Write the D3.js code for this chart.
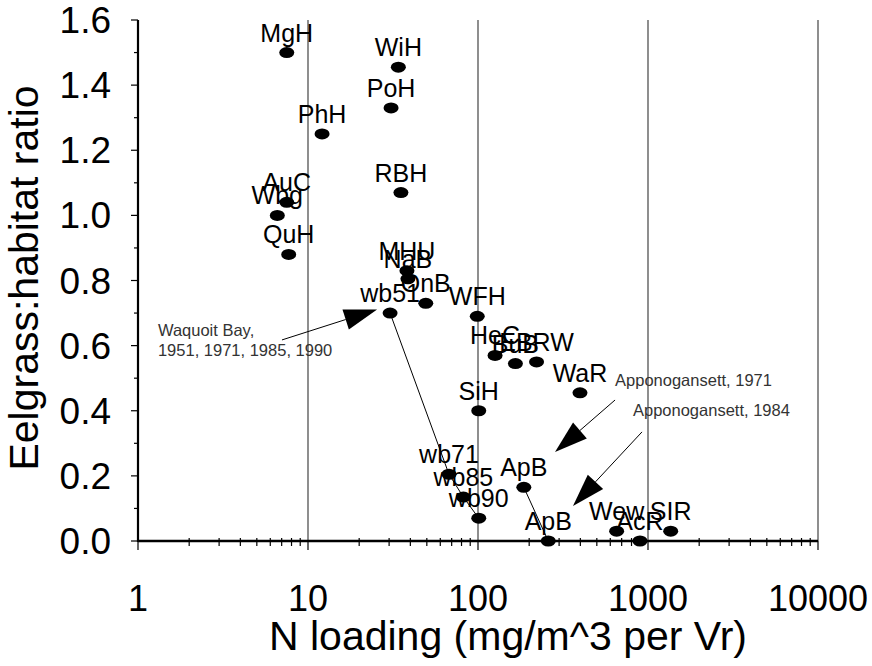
<!DOCTYPE html>
<html><head><meta charset="utf-8">
<script src="https://cdn.jsdelivr.net/npm/d3@7"></script>
<style>body{margin:0;background:#fff} svg{display:block}</style>
</head><body>
<svg id="chart" width="872" height="666"></svg>
<script>
// ---- data ----
const sites = ["MgH","WiH","PoH","PhH","RBH","AuC","Wbg","QuH","MHU","NaB","OnB","wb51","WFH","HeC","BuB","EBRW","WaR","SiH","wb71","wb85","wb90","ApB","ApB","Wew","AcR","SIR"];
const nLoading = [7.5, 34, 30.8, 12.1, 35.2, 7.5, 6.6, 7.7, 38.2, 38.7, 49.3, 30.4, 99, 126, 166, 221, 398, 101, 67.5, 82, 101, 186, 259, 654, 897, 1360];
const habitatRatio = [1.5, 1.455, 1.33, 1.25, 1.07, 1.04, 1.0, 0.88, 0.83, 0.805, 0.73, 0.70, 0.69, 0.57, 0.545, 0.55, 0.455, 0.40, 0.205, 0.135, 0.07, 0.165, 0.0, 0.03, 0.0, 0.03];
const waquoitTrack = [11, 18, 19, 20];
const apponTrack = [21, 22];
const xTicks = [1, 10, 100, 1000, 10000];
const yTicks = [0, 0.2, 0.4, 0.6, 0.8, 1.0, 1.2, 1.4, 1.6];
const annoText = [
  {lines: ["Waquoit Bay,", "1951, 1971, 1985, 1990"], x: 1.31, y: 0.63},
  {lines: ["Apponogansett, 1971"], x: 640, y: 0.476},
  {lines: ["Apponogansett, 1984"], x: 816, y: 0.384}
];
const annoArrows = [
  {from: [7.03, 0.6175], to: [25.5, 0.711]},
  {from: [640, 0.433], to: [283.8, 0.273]},
  {from: [922, 0.335], to: [362, 0.1075]}
];

// ---- layout ----
const svg = d3.select("#chart");
const x = d3.scaleLog().domain([1, 10000]).range([138, 818]);
const y = d3.scaleLinear().domain([0, 1.6]).range([541, 20]);
const FONT = "'Liberation Sans', Arial, sans-serif";

// vertical grid lines
svg.append("g").selectAll("line").data(xTicks.slice(1)).join("line")
  .attr("x1", d => x(d)).attr("x2", d => x(d))
  .attr("y1", y(1.6)).attr("y2", y(0))
  .attr("stroke", "#444").attr("stroke-width", 1.2);

// y axis
const yAxis = svg.append("g");
yAxis.append("line").attr("x1", x(1)).attr("x2", x(1)).attr("y1", y(1.6)).attr("y2", y(0) + 1)
  .attr("stroke", "#000").attr("stroke-width", 2.2);
const yMinor = d3.range(0, 17).map(i => i / 10);
yAxis.selectAll(".ymt").data(yMinor).join("line")
  .attr("x1", x(1)).attr("x2", (d, i) => x(1) - (i % 2 === 0 ? 7 : 4))
  .attr("y1", d => y(d)).attr("y2", d => y(d))
  .attr("stroke", "#000").attr("stroke-width", 1.2);
yAxis.selectAll("text").data(yTicks).join("text")
  .attr("x", 111).attr("y", d => y(d) + 13)
  .attr("text-anchor", "end").attr("font-family", FONT).attr("font-size", 37)
  .text(d => d3.format(".1f")(d));

// x axis
const xAxis = svg.append("g");
xAxis.append("line").attr("x1", x(1)).attr("x2", x(10000)).attr("y1", y(0)).attr("y2", y(0))
  .attr("stroke", "#000").attr("stroke-width", 2.6);
const xMinor = [];
[1, 10, 100, 1000].forEach(d => { for (let k = 2; k <= 9; k++) xMinor.push(d * k); });
xAxis.selectAll(".xmt").data(xMinor).join("line")
  .attr("x1", d => x(d)).attr("x2", d => x(d))
  .attr("y1", y(0) - 3).attr("y2", y(0) + 5)
  .attr("stroke", "#000").attr("stroke-width", 1.2);
xAxis.selectAll(".xMt").data(xTicks).join("line")
  .attr("x1", d => x(d)).attr("x2", d => x(d))
  .attr("y1", y(0)).attr("y2", y(0) + 9)
  .attr("stroke", "#000").attr("stroke-width", 1.2);
xAxis.selectAll("text").data(xTicks).join("text")
  .attr("x", d => x(d)).attr("y", 611)
  .attr("text-anchor", "middle").attr("font-family", FONT).attr("font-size", 36)
  .text(d => d);

// axis titles
svg.append("text").attr("x", 508).attr("y", 650).attr("text-anchor", "middle")
  .attr("font-family", FONT).attr("font-size", 41)
  .text("N loading (mg/m^3 per Vr)");
svg.append("text").attr("transform", "translate(38,278) rotate(-90)").attr("text-anchor", "middle")
  .attr("font-family", FONT).attr("font-size", 41)
  .text("Eelgrass:habitat ratio");

// point labels
svg.append("g").selectAll("text").data(sites).join("text")
  .attr("x", (d, i) => x(nLoading[i])).attr("y", (d, i) => y(habitatRatio[i]) - 11)
  .attr("text-anchor", "middle").attr("font-family", FONT).attr("font-size", 25)
  .text(d => d);

// trajectories
const line = d3.line().x(i => x(nLoading[i])).y(i => y(habitatRatio[i]));
[waquoitTrack, apponTrack].forEach(t => {
  svg.append("path").attr("d", line(t)).attr("fill", "none").attr("stroke", "#000").attr("stroke-width", 1);
});

// points
svg.append("g").selectAll("ellipse").data(sites).join("ellipse")
  .attr("cx", (d, i) => x(nLoading[i])).attr("cy", (d, i) => y(habitatRatio[i]))
  .attr("rx", 7.5).attr("ry", 5.5).attr("fill", "#000");

// annotations
annoText.forEach(a => {
  const t = svg.append("text").attr("font-family", FONT).attr("font-size", 16.5).attr("fill", "#333");
  a.lines.forEach((l, k) => t.append("tspan").attr("x", x(a.x)).attr("y", y(a.y) + k * 20).text(l));
});
annoArrows.forEach(a => {
  const x1 = x(a.from[0]), y1 = y(a.from[1]), x2 = x(a.to[0]), y2 = y(a.to[1]);
  const dx = x2 - x1, dy = y2 - y1, L = Math.hypot(dx, dy), ux = dx / L, uy = dy / L;
  const hl = 33, hw = 10.5;
  const bx = x2 - ux * hl, by = y2 - uy * hl;
  svg.append("line").attr("x1", x1).attr("y1", y1).attr("x2", bx).attr("y2", by)
    .attr("stroke", "#000").attr("stroke-width", 1);
  svg.append("path").attr("d", `M${x2},${y2}L${bx - uy * hw},${by + ux * hw}L${bx + uy * hw},${by - ux * hw}Z`)
    .attr("fill", "#000");
});
</script>
</body></html>
